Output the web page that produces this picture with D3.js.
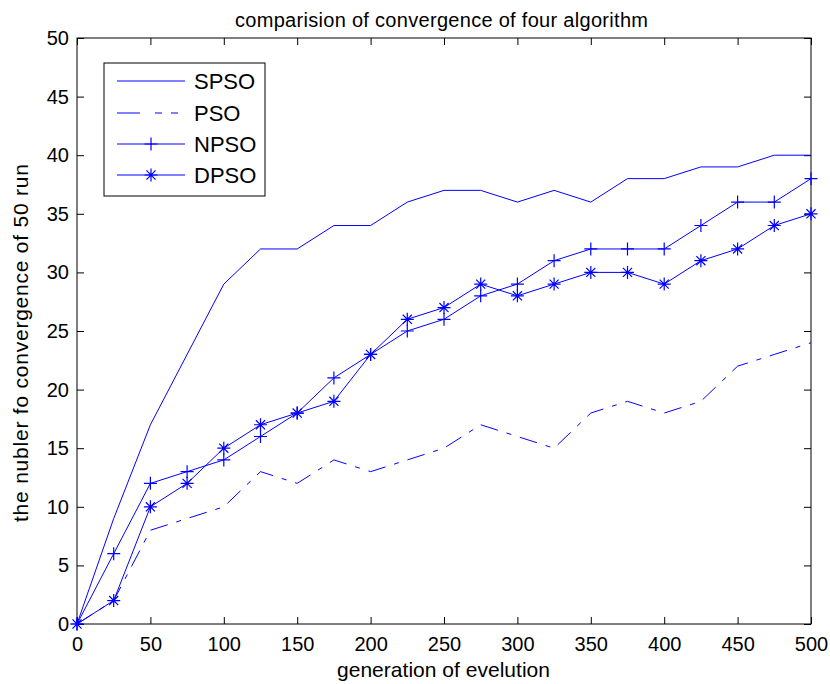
<!DOCTYPE html>
<html><head><meta charset="utf-8">
<script src="https://cdn.jsdelivr.net/npm/d3@7"></script>
<style>body{margin:0;background:#fff;} text{font-family:"Liberation Sans",Arial,sans-serif;}</style>
</head><body><svg id="c" width="830" height="684"></svg>
<script>
const generations = [0,25,50,75,100,125,150,175,200,225,250,275,300,325,350,375,400,425,450,475,500];
const spso = [0,9,17,23,29,32,32,34,34,36,37,37,36,37,36,38,38,39,39,40,40];
const pso  = [0,2,8,9,10,13,12,14,13,14,15,17,16,15,18,19,18,19,22,23,24];
const npso = [0,6,12,13,14,16,18,21,23,25,26,28,29,31,32,32,32,34,36,36,38];
const dpso = [0,2,10,12,15,17,18,19,23,26,27,29,28,29,30,30,29,31,32,34,35];
const seriesNames = ["SPSO","PSO","NPSO","DPSO"];
const xTicks = [0,50,100,150,200,250,300,350,400,450,500];
const yTicks = [0,5,10,15,20,25,30,35,40,45,50];

const svg = d3.select("#c");
const L=77,R=811,T=38,B=624;
const x = d3.scaleLinear().domain([0,500]).range([L,R]);
const y = d3.scaleLinear().domain([0,50]).range([B,T]);
const blue="#0000ff";

const tl=7;
svg.append("g").attr("transform",`translate(0,${B})`).call(d3.axisBottom(x).tickValues(xTicks).tickSizeInner(-tl).tickSizeOuter(0).tickPadding(13))
  .call(g=>{g.select(".domain").remove();g.selectAll("text").attr("font-size",20).attr("fill","#000");});
svg.append("g").attr("transform",`translate(0,${T})`).call(d3.axisTop(x).tickValues(xTicks).tickSizeInner(-tl).tickSizeOuter(0).tickFormat(""))
  .call(g=>g.select(".domain").remove());
svg.append("g").attr("transform",`translate(${L},0)`).call(d3.axisLeft(y).tickValues(yTicks).tickSizeInner(-tl).tickSizeOuter(0).tickPadding(8))
  .call(g=>{g.select(".domain").remove();g.selectAll("text").attr("font-size",20).attr("fill","#000");});
svg.append("g").attr("transform",`translate(${R},0)`).call(d3.axisRight(y).tickValues(yTicks).tickSizeInner(-tl).tickSizeOuter(0).tickFormat(""))
  .call(g=>g.select(".domain").remove());
svg.append("rect").attr("x",L).attr("y",T).attr("width",R-L).attr("height",B-T).attr("fill","none").attr("stroke","#000").attr("stroke-width",1);

const line = d3.line().x((d,i)=>x(generations[i])).y(d=>y(d));
const data=[spso,pso,npso,dpso];
const dashes=[null,"18,9,5,9",null,null];
data.forEach((s,k)=>{
  svg.append("path").attr("d",line(s)).attr("fill","none").attr("stroke",blue).attr("stroke-width",1)
    .attr("stroke-dasharray",dashes[k]);
});
function plus(g,cx,cy,r){g.append("path").attr("d",`M${cx-r},${cy}H${cx+r}M${cx},${cy-r}V${cy+r}`).attr("stroke",blue).attr("stroke-width",1.2).attr("fill","none");}
function star(g,cx,cy,r){const d=r*0.7;g.append("path").attr("d",`M${cx-r},${cy}H${cx+r}M${cx},${cy-r}V${cy+r}M${cx-d},${cy-d}L${cx+d},${cy+d}M${cx-d},${cy+d}L${cx+d},${cy-d}`).attr("stroke",blue).attr("stroke-width",1.2).attr("fill","none");}
const mg=svg.append("g");
npso.forEach((v,i)=>plus(mg,x(generations[i]),y(v),6.5));
dpso.forEach((v,i)=>star(mg,x(generations[i]),y(v),6.5));

const lg=svg.append("g");
lg.append("rect").attr("x",104).attr("y",63).attr("width",161).attr("height",133).attr("fill","#fff").attr("stroke","#000");
const rows=[81,113,144,175];
seriesNames.forEach((n,k)=>{
  const ry=rows[k];
  lg.append("line").attr("x1",117).attr("x2",185).attr("y1",ry).attr("y2",ry).attr("stroke",blue).attr("stroke-width",1)
    .attr("stroke-dasharray",k===1?"23,15,7,9,7":null);
  if(k===2) plus(lg,151,ry,6.5);
  if(k===3) star(lg,151,ry,6.5);
  lg.append("text").attr("x",194).attr("y",ry+8).attr("font-size",22).text(n);
});

svg.append("text").attr("x",441.5).attr("y",27).attr("text-anchor","middle").attr("font-size",20)
  .attr("textLength",413).attr("lengthAdjust","spacing").text("comparision of convergence of four algorithm");
svg.append("text").attr("x",443.5).attr("y",677).attr("text-anchor","middle").attr("font-size",21)
  .attr("textLength",213).attr("lengthAdjust","spacing").text("generation of evelution");
svg.append("text").attr("transform","translate(28,343) rotate(-90)").attr("text-anchor","middle").attr("font-size",21)
  .attr("textLength",358).attr("lengthAdjust","spacing").text("the nubler fo convergence of 50 run");
</script></body></html>
